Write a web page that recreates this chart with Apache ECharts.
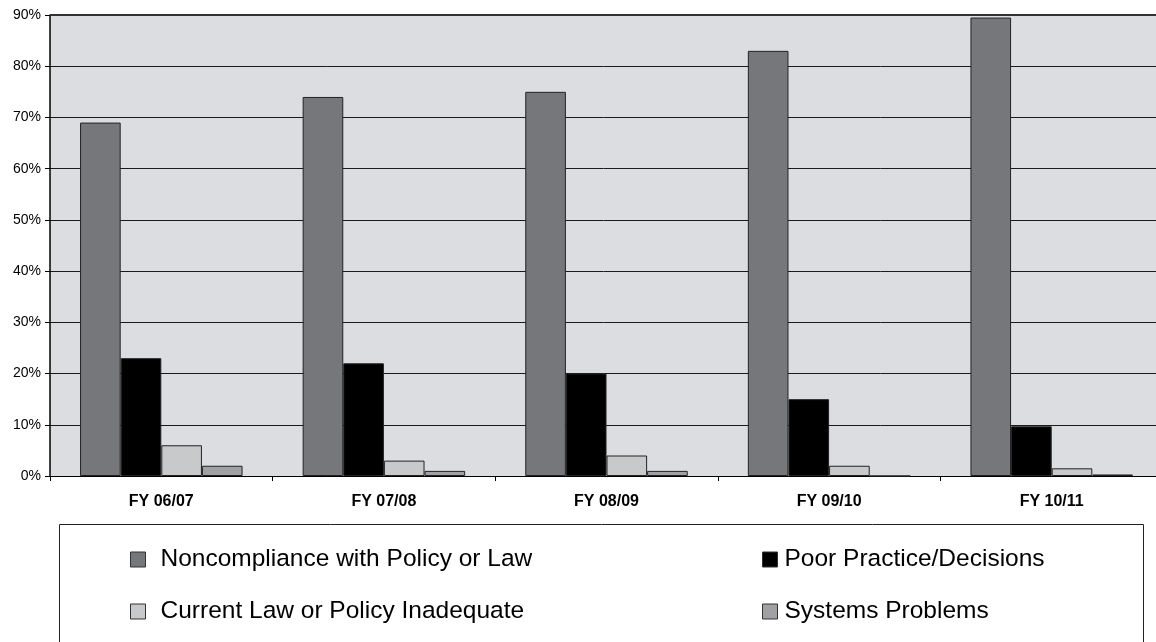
<!DOCTYPE html>
<html>
<head>
<meta charset="utf-8">
<script src="https://cdn.jsdelivr.net/npm/echarts@6/dist/echarts.min.js"></script>
<style>
html,body{margin:0;padding:0;background:#fff;}
#chart{width:1156px;height:642px;}
</style>
</head>
<body>
<div id="chart"></div>
<script>
const categories = ['FY 06/07', 'FY 07/08', 'FY 08/09', 'FY 09/10', 'FY 10/11'];
const seriesNames = ['Noncompliance with Policy or Law', 'Poor Practice/Decisions', 'Current Law or Policy Inadequate', 'Systems Problems'];
const noncompliance = [69, 74, 75, 83, 89.5];
const poorPractice = [23, 22, 20, 15, 9.7];
const lawInadequate = [6, 3, 4, 2, 1.5];
const systemsProblems = [2, 1, 1, 0, 0.3];
const yTicks = [0, 10, 20, 30, 40, 50, 60, 70, 80, 90];

const colors = ['#76777b', '#000000', '#c8c9cb', '#a0a1a5'];
const values = [noncompliance, poorPractice, lawInadequate, systemsProblems];
const font = 'Arial, "Liberation Sans", sans-serif';

const chart = echarts.init(document.getElementById('chart'), null, {renderer: 'canvas'});

const legendPos = [
  {left: 130, top: 547, pad: 10},
  {left: 762, top: 547, pad: 2},
  {left: 130, top: 599, pad: 10},
  {left: 762, top: 599, pad: 2}
];

const option = {
  animation: false,
  backgroundColor: '#ffffff',
  grid: {
    left: 50, top: 15, width: 1113, bottom: 166,
    outerBoundsMode: 'none',
    containLabel: false,
    show: true, backgroundColor: '#dcdde0', borderWidth: 0
  },
  graphic: [
    {type: 'rect', shape: {x: 59.5, y: 524.5, width: 1084, height: 140},
     style: {fill: 'none', stroke: '#222', lineWidth: 1}, z: 0},
    {type: 'line', shape: {x1: 50, y1: 15, x2: 1156, y2: 15},
     style: {stroke: '#333', lineWidth: 2}, z: 10}
  ],
  legend: seriesNames.map((n, i) => ({
    data: [n],
    left: legendPos[i].left,
    top: legendPos[i].top,
    padding: 0,
    itemWidth: 15,
    itemHeight: 15,
    icon: 'rect',
    selectedMode: false,
    itemStyle: {borderColor: '#333', borderWidth: 1},
    textStyle: {fontFamily: font, fontSize: 24.5, color: '#000', padding: [0, 0, 0, legendPos[i].pad]}
  })),
  xAxis: {
    type: 'category',
    data: categories,
    boundaryGap: true,
    axisLine: {show: true, lineStyle: {color: '#000', width: 1}},
    axisTick: {show: true, interval: 0, length: 5, lineStyle: {color: '#000'}},
    axisLabel: {interval: 0, margin: 18, fontFamily: font, fontSize: 16, fontWeight: 'bold', color: '#000'},
    splitLine: {show: false}
  },
  yAxis: {
    type: 'value',
    min: yTicks[0],
    max: yTicks[yTicks.length - 1],
    interval: 10,
    axisLine: {show: true, lineStyle: {color: '#000', width: 1.5}},
    axisTick: {show: true, length: 5, lineStyle: {color: '#000'}},
    axisLabel: {margin: 9, fontFamily: font, fontSize: 14, color: '#000', formatter: '{value}%'},
    splitLine: {show: true, lineStyle: {color: '#1a1a1a', width: 1}}
  },
  series: seriesNames.map((n, i) => ({
    name: n,
    type: 'bar',
    data: values[i],
    barGap: '0%',
    barCategoryGap: '27%',
    itemStyle: {color: colors[i], borderColor: '#222', borderWidth: 1}
  }))
};

chart.setOption(option);
</script>
</body>
</html>
